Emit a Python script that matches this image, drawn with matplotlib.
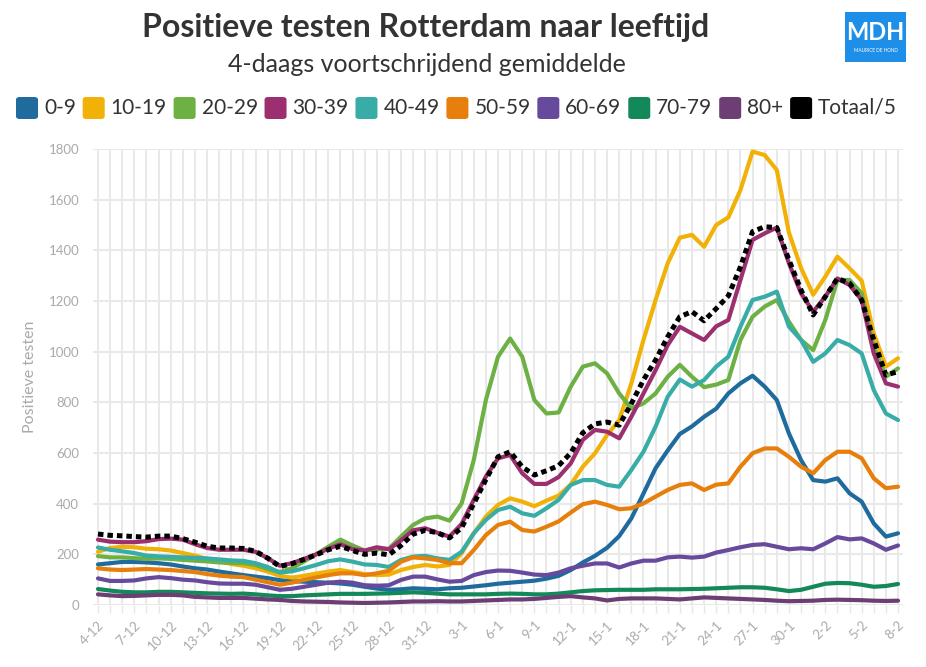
import matplotlib
matplotlib.use('Agg')
import matplotlib.pyplot as plt
from matplotlib.patches import FancyBboxPatch, Rectangle

plt.rcParams['font.family'] = ['Lato', 'DejaVu Sans']

# dagen 4-12 t/m 8-2
dates = ([f"{d}-12" for d in range(4, 32)] + [f"{d}-1" for d in range(1, 32)]
         + [f"{d}-2" for d in range(1, 9)])

labels = ['0-9', '10-19', '20-29', '30-39', '40-49', '50-59', '60-69', '70-79', '80+', 'Totaal/5']
colors = ['#1f6b9d', '#f1b106', '#6db043', '#9c2f6f', '#38aca7', '#e67f0b',
          '#684a9d', '#138858', '#6c3e74', '#000000']

a0_9 = [160, 165, 170, 170, 168, 165, 160, 152, 145, 140, 132, 125, 118, 112, 106, 98, 94, 92, 90, 88,
        85, 80, 72, 65, 60, 62, 66, 64, 62, 66, 68, 73, 78, 84, 88, 92, 96, 104, 115, 138,
        168, 194, 226, 272, 342, 440, 540, 610, 675, 705, 743, 775, 835, 875, 905, 862, 809, 677, 572, 493,
        487, 500, 441, 408, 322, 270, 283]
a10_19 = [210, 225, 230, 228, 222, 220, 215, 205, 195, 182, 172, 162, 155, 145, 132, 115, 108, 115, 124, 132,
          138, 130, 122, 118, 120, 138, 150, 158, 152, 158, 204, 283, 349, 395, 421, 408, 390, 412, 432, 475,
          546, 599, 671, 730, 875, 1046, 1204, 1349, 1450, 1461, 1414, 1500, 1530, 1638, 1790, 1776, 1717, 1470, 1330, 1225,
          1296, 1375, 1329, 1280, 1072, 941, 974]
a20_29 = [193, 188, 188, 185, 182, 184, 182, 178, 175, 172, 168, 166, 165, 158, 142, 130, 145, 172, 200, 230,
          258, 235, 215, 220, 222, 270, 316, 342, 349, 333, 401, 572, 809, 980, 1052, 980, 809, 756, 760, 862,
          941, 954, 914, 835, 776, 796, 835, 901, 948, 901, 860, 870, 888, 1046, 1138, 1178, 1204, 1118, 1046, 1006,
          1125, 1283, 1283, 1230, 1020, 901, 934]
a30_39 = [258, 250, 248, 248, 252, 260, 262, 258, 240, 225, 218, 218, 218, 210, 185, 155, 165, 182, 200, 222,
          240, 220, 215, 228, 220, 255, 295, 303, 285, 270, 320, 415, 507, 579, 592, 520, 478, 478, 505, 559,
          652, 691, 684, 658, 743, 835, 927, 1026, 1098, 1072, 1046, 1100, 1125, 1283, 1441, 1467, 1490, 1349, 1230, 1158,
          1217, 1289, 1263, 1204, 993, 875, 862]
a40_49 = [227, 218, 212, 205, 195, 192, 190, 188, 186, 184, 180, 176, 174, 165, 150, 128, 133, 145, 158, 173,
          180, 171, 160, 158, 150, 178, 191, 194, 184, 178, 210, 283, 336, 375, 388, 362, 352, 382, 415, 474,
          493, 493, 474, 467, 533, 605, 704, 822, 890, 862, 888, 941, 980, 1099, 1204, 1217, 1237, 1099, 1046, 960,
          993, 1046, 1026, 993, 848, 756, 730]
a50_59 = [145, 140, 138, 140, 142, 140, 138, 134, 130, 122, 116, 112, 110, 100, 90, 80, 88, 99, 109, 118,
          125, 125, 118, 125, 135, 171, 188, 184, 178, 165, 165, 217, 276, 316, 329, 296, 290, 309, 330, 365,
          398, 408, 395, 378, 382, 401, 428, 454, 474, 480, 454, 475, 480, 546, 599, 618, 618, 585, 546, 520,
          572, 605, 605, 579, 500, 461, 467]
a60_69 = [105, 95, 95, 97, 105, 110, 106, 100, 97, 90, 85, 84, 84, 80, 70, 60, 64, 72, 80, 88,
          92, 88, 78, 76, 78, 99, 112, 112, 101, 92, 95, 118, 130, 136, 135, 128, 120, 118, 128, 145,
          155, 164, 164, 148, 164, 175, 175, 188, 191, 187, 191, 207, 217, 228, 237, 240, 230, 220, 224, 220,
          243, 268, 259, 263, 243, 218, 235]
a70_79 = [63, 57, 52, 50, 50, 52, 52, 50, 48, 46, 45, 44, 45, 42, 38, 35, 35, 38, 40, 42,
          44, 44, 44, 45, 46, 48, 50, 48, 45, 42, 42, 42, 42, 44, 45, 44, 42, 42, 45, 50,
          55, 58, 59, 60, 60, 60, 62, 62, 62, 63, 64, 66, 68, 70, 70, 68, 62, 55, 60, 72,
          84, 87, 86, 80, 72, 75, 83]
a80 = [42, 38, 35, 36, 38, 40, 40, 38, 32, 30, 28, 28, 28, 25, 22, 20, 16, 14, 13, 12,
       10, 9, 8, 9, 10, 12, 14, 14, 15, 14, 14, 16, 18, 20, 22, 22, 24, 28, 32, 35,
       30, 26, 18, 24, 26, 26, 26, 24, 22, 26, 30, 28, 26, 24, 22, 20, 17, 15, 16, 17,
       20, 21, 20, 19, 17, 16, 17]
totaal5 = [280, 275, 273, 270, 268, 272, 272, 262, 248, 232, 225, 225, 223, 212, 185, 152, 163, 180, 198, 218,
           232, 215, 200, 205, 198, 235, 280, 295, 285, 265, 305, 400, 495, 585, 605, 545, 513, 530, 550, 600,
           680, 715, 722, 710, 795, 888, 967, 1059, 1138, 1158, 1122, 1170, 1220, 1335, 1474, 1493, 1490, 1362, 1243, 1145,
           1217, 1289, 1270, 1204, 1046, 908, 921]

series = [a0_9, a10_19, a20_29, a30_39, a40_49, a50_59, a60_69, a70_79, a80, totaal5]

W, H = 926, 667
fig = plt.figure(figsize=(W / 100, H / 100), dpi=100)


def fx(x):
    return x / W


def fy(y):
    return 1 - y / H


# titels
fig.text(fx(426), fy(28), 'Positieve testen Rotterdam naar leeftijd', ha='center', va='center',
         fontsize=23, fontweight='bold', color='#333333')
fig.text(fx(427), fy(65), '4-daags voortschrijdend gemiddelde', ha='center', va='center',
         fontsize=18, color='#333333')

# logo MDH
fig.patches.append(Rectangle((fx(845), fy(62)), fx(61), 50 / H, transform=fig.transFigure,
                             facecolor='#1e8fe8', edgecolor='none'))
fig.text(fx(875.5), fy(33), 'MDH', ha='center', va='center', fontsize=17, fontweight='bold', color='white')
fig.text(fx(875.5), fy(51), 'MAURICE DE HOND', ha='center', va='center', fontsize=3.4, color='white')

# legenda
renderer = fig.canvas.get_renderer()
leg_y = 108
sq = 22
items = []
for lab, col in zip(labels, colors):
    t = fig.text(0, fy(leg_y), lab, ha='left', va='center', fontsize=15, color='#333333')
    w = t.get_window_extent(renderer).width
    items.append((t, col, w))
gap_in = 6
total = sum(sq + gap_in + w for _, _, w in items)
gap_out = (897 - 16 - total) / (len(items) - 1)
x = 16
for t, col, w in items:
    fig.patches.append(FancyBboxPatch((fx(x), fy(leg_y + sq / 2)), fx(sq), sq / H,
                                      boxstyle='round,pad=0,rounding_size=0.004',
                                      transform=fig.transFigure, facecolor=col, edgecolor='none'))
    t.set_x(fx(x + sq + gap_in))
    x += sq + gap_in + w + gap_out

ax = fig.add_axes([fx(93), fy(605), fx(903 - 93), (605 - 149) / H])
days = list(range(len(dates)))

for vals, col, lab in zip(series, colors, labels):
    if lab == 'Totaal/5':
        ax.plot(days, vals, color=col, lw=3.6, linestyle=(0, (1.1, 0.8)),
                dash_capstyle='butt', zorder=5)
    else:
        ax.plot(days, vals, color=col, lw=3.0, solid_joinstyle='round',
                solid_capstyle='round', zorder=3)

ax.set_xlim(-0.41, 66.41)
ax.set_ylim(0, 1800)
ax.set_yticks(range(0, 1801, 200))
ax.set_xticks(days)
ax.set_xticklabels([d if i % 3 == 0 else '' for i, d in enumerate(dates)],
                   rotation=45, ha='right', va='top', rotation_mode='anchor')
ax.tick_params(axis='x', length=6, width=1, color='#e6e6e6', labelsize=9.5,
               labelcolor='#aaaaaa', pad=4)
ax.tick_params(axis='y', length=0, labelsize=9.5, labelcolor='#aaaaaa', pad=10)
ax.grid(True, color='#e9e9e9', lw=1.5, zorder=0)
ax.set_axisbelow(True)
for s in ax.spines.values():
    s.set_visible(False)
ax.set_ylabel('Positieve testen', fontsize=11.5, color='#aaaaaa', labelpad=8)

fig.savefig('out.png', dpi=100)
